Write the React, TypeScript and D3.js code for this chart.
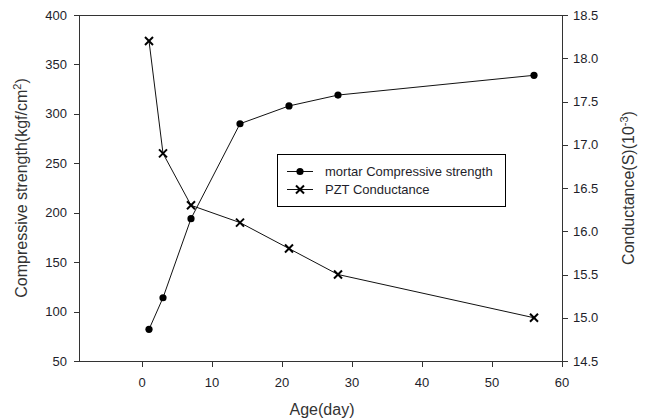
import React from "react";
import * as d3 from "d3";

// Curing age (days) at which both quantities were measured
const ages = [1, 3, 7, 14, 21, 28, 56];
// Mortar compressive strength, kgf/cm²
const strength = [82, 114, 194, 290, 308, 319, 339];
// PZT conductance, S ×10⁻³
const conductance = [18.2, 16.9, 16.3, 16.1, 15.8, 15.5, 15.0];

const xTicks = [0, 10, 20, 30, 40, 50, 60];
const leftTicks = [50, 100, 150, 200, 250, 300, 350, 400];
const rightTicks = [14.5, 15.0, 15.5, 16.0, 16.5, 17.0, 17.5, 18.0, 18.5];

const W = 646;
const H = 419;
const L = 79;
const R = 562;
const T = 15;
const B = 361;

const FONT = "'Liberation Sans', Arial, sans-serif";
const AXIS = "#333";

export default function App() {
  const x = d3.scaleLinear().domain([-9, 60]).range([L, R]);
  const yL = d3.scaleLinear().domain([50, 400]).range([B, T]);
  const yR = d3.scaleLinear().domain([14.5, 18.5]).range([B, T]);

  const strengthPts: [number, number][] = ages.map((a, i) => [x(a), yL(strength[i])]);
  const condPts: [number, number][] = ages.map((a, i) => [x(a), yR(conductance[i])]);
  const line = d3.line();

  const cross = (cx: number, cy: number, key: string) => (
    <g key={key} stroke="#000" strokeWidth={2}>
      <line x1={cx - 4} y1={cy - 4} x2={cx + 4} y2={cy + 4} />
      <line x1={cx - 4} y1={cy + 4} x2={cx + 4} y2={cy - 4} />
    </g>
  );

  const fmtR = d3.format(".1f");

  return (
    <div style={{ position: "absolute", left: 0, top: 0 }}>
      <svg width={W} height={H} style={{ display: "block", background: "#fff" }} fontFamily={FONT}>
        {/* plot frame */}
        <rect x={L + 0.5} y={T + 0.5} width={R - L} height={B - T} fill="none" stroke={AXIS} strokeWidth={1} />

        {/* left axis */}
        {leftTicks.map((t) => (
          <g key={"l" + t}>
            <line x1={L - 5} x2={L} y1={Math.round(yL(t)) + 0.5} y2={Math.round(yL(t)) + 0.5} stroke={AXIS} />
            <text x={L - 12} y={yL(t)} dy="0.35em" textAnchor="end" fontSize={13} fill="#1e1e2a">
              {t}
            </text>
          </g>
        ))}

        {/* right axis */}
        {rightTicks.map((t) => (
          <g key={"r" + t}>
            <line x1={R + 0.5} x2={R + 6} y1={Math.round(yR(t)) + 0.5} y2={Math.round(yR(t)) + 0.5} stroke={AXIS} />
            <text x={R + 11} y={yR(t)} dy="0.35em" textAnchor="start" fontSize={13} fill="#1e1e2a">
              {fmtR(t)}
            </text>
          </g>
        ))}

        {/* bottom axis */}
        {xTicks.map((t) => (
          <g key={"b" + t}>
            <line x1={Math.round(x(t)) + 0.5} x2={Math.round(x(t)) + 0.5} y1={B + 0.5} y2={B + 6} stroke={AXIS} />
            <text x={x(t)} y={382} dy="0.35em" textAnchor="middle" fontSize={13} fill="#1e1e2a">
              {t}
            </text>
          </g>
        ))}

        {/* axis titles */}
        <text x={322} y={415} textAnchor="middle" fontSize={16} fill="#333">
          Age(day)
        </text>
        <text transform={`translate(27,${(T + B) / 2}) rotate(-90)`} textAnchor="middle" fontSize={16} fill="#333">
          Compressive strength(kgf/cm
          <tspan dy={-6} fontSize={11}>2</tspan>
          <tspan dy={6}>)</tspan>
        </text>
        <text transform={`translate(634,${(T + B) / 2}) rotate(-90)`} textAnchor="middle" fontSize={16} fill="#333">
          Conductance(S)(10
          <tspan dy={-6} fontSize={11}>-3</tspan>
          <tspan dy={6}>)</tspan>
        </text>

        {/* series lines */}
        <path d={line(strengthPts) ?? ""} fill="none" stroke="#111" strokeWidth={1} />
        <path d={line(condPts) ?? ""} fill="none" stroke="#111" strokeWidth={1} />

        {/* markers */}
        {strengthPts.map(([cx, cy], i) => (
          <circle key={"s" + i} cx={cx} cy={cy} r={3.6} fill="#000" />
        ))}
        {condPts.map(([cx, cy], i) => cross(cx, cy, "c" + i))}

        {/* legend */}
        <rect x={277.5} y={154.5} width={228} height={52} fill="#fff" stroke="#000" strokeWidth={1} />
        <line x1={287} x2={313} y1={171.5} y2={171.5} stroke="#111" />
        <circle cx={300} cy={171.5} r={3.6} fill="#000" />
        <text x={325} y={171.5} dy="0.35em" fontSize={13} fill="#1e1e2a">
          mortar Compressive strength
        </text>
        <line x1={287} x2={313} y1={189.5} y2={189.5} stroke="#111" />
        {cross(300, 189.5, "legx")}
        <text x={325} y={189.5} dy="0.35em" fontSize={13} fill="#1e1e2a">
          PZT Conductance
        </text>
      </svg>
    </div>
  );
}
